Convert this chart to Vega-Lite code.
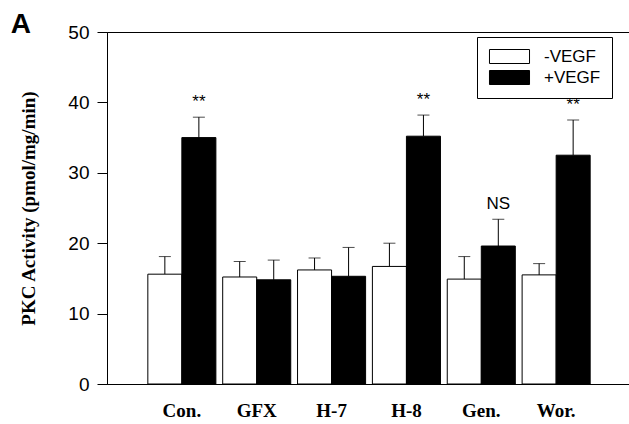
{
  "$schema": "https://vega.github.io/schema/vega-lite/v6.json",
  "width": 524,
  "height": 352,
  "autosize": {"type": "none"},
  "padding": {"left": 107, "top": 32, "right": 0, "bottom": 40},
  "title": {"text": "A", "anchor": "start", "frame": "bounds", "font": "Liberation Sans", "fontSize": 28, "fontWeight": "bold", "color": "black", "offset": 0, "dx": -9, "dy": 16},
  "config": {
    "view": {"stroke": "black", "strokeWidth": 1},
    "axis": {"domainColor": "black", "tickColor": "black", "labelColor": "black", "titleColor": "black", "grid": false}
  },
  "data": {
    "values": [
      {"group": "Con.", "treatment": "-VEGF", "mean": 15.6, "upper": 18.1, "label": ""},
      {"group": "Con.", "treatment": "+VEGF", "mean": 35.0, "upper": 37.9, "label": "**"},
      {"group": "GFX", "treatment": "-VEGF", "mean": 15.2, "upper": 17.4, "label": ""},
      {"group": "GFX", "treatment": "+VEGF", "mean": 14.8, "upper": 17.6, "label": ""},
      {"group": "H-7", "treatment": "-VEGF", "mean": 16.2, "upper": 17.9, "label": ""},
      {"group": "H-7", "treatment": "+VEGF", "mean": 15.3, "upper": 19.4, "label": ""},
      {"group": "H-8", "treatment": "-VEGF", "mean": 16.7, "upper": 20.0, "label": ""},
      {"group": "H-8", "treatment": "+VEGF", "mean": 35.2, "upper": 38.2, "label": "**"},
      {"group": "Gen.", "treatment": "-VEGF", "mean": 14.9, "upper": 18.1, "label": ""},
      {"group": "Gen.", "treatment": "+VEGF", "mean": 19.6, "upper": 23.4, "label": "NS"},
      {"group": "Wor.", "treatment": "-VEGF", "mean": 15.5, "upper": 17.1, "label": ""},
      {"group": "Wor.", "treatment": "+VEGF", "mean": 32.5, "upper": 37.5, "label": "**"}
    ]
  },
  "encoding": {
    "x": {
      "field": "group", "type": "nominal",
      "sort": ["Con.", "GFX", "H-7", "H-8", "Gen.", "Wor."],
      "scale": {"paddingInner": 0, "paddingOuter": 0.5},
      "axis": {"title": null, "ticks": false, "labelAngle": 0, "labelFont": "Liberation Serif", "labelFontWeight": "bold", "labelFontSize": 19, "labelPadding": 17}
    },
    "xOffset": {
      "field": "treatment", "type": "nominal",
      "sort": ["-VEGF", "+VEGF"],
      "scale": {"paddingInner": 0, "paddingOuter": 0.1}
    }
  },
  "layer": [
    {
      "mark": {"type": "rule", "color": "black", "strokeWidth": 1},
      "encoding": {
        "y": {"field": "mean", "type": "quantitative"},
        "y2": {"field": "upper"}
      }
    },
    {
      "mark": {"type": "tick", "orient": "horizontal", "size": 12, "thickness": 1, "color": "black"},
      "encoding": {
        "y": {"field": "upper", "type": "quantitative"}
      }
    },
    {
      "mark": {"type": "bar", "stroke": "black", "strokeWidth": 1},
      "encoding": {
        "y": {
          "field": "mean", "type": "quantitative",
          "scale": {"domain": [0, 50]},
          "axis": {"title": "PKC Activity (pmol/mg/min)", "values": [0, 10, 20, 30, 40, 50], "tickSize": 10, "labelFont": "Liberation Sans", "labelFontSize": 19, "labelPadding": 8, "titleFont": "Liberation Serif", "titleFontWeight": "bold", "titleFontSize": 19, "titlePadding": 29}
        },
        "color": {
          "field": "treatment", "type": "nominal",
          "sort": ["-VEGF", "+VEGF"],
          "scale": {"domain": ["-VEGF", "+VEGF"], "range": ["white", "black"]},
          "legend": {"title": null, "orient": "none", "legendX": 370, "legendY": 5, "strokeColor": "black", "padding": 11, "symbolType": "M-2.86,-1L2.86,-1L2.86,1L-2.86,1Z", "symbolSize": 196, "symbolOffset": 13, "symbolStrokeColor": "black", "symbolStrokeWidth": 1, "symbolOpacity": 1, "labelFont": "Liberation Sans", "labelFontSize": 17, "labelColor": "black", "labelOffset": 26, "labelExpr": "datum.label + ' '", "rowPadding": 2}
        }
      }
    },
    {
      "transform": [{"filter": "datum.label != ''"}],
      "mark": {"type": "text", "baseline": "bottom", "dy": -6, "font": "Liberation Sans", "fontSize": 17, "color": "black"},
      "encoding": {
        "y": {"field": "upper", "type": "quantitative"},
        "text": {"field": "label"}
      }
    }
  ]
}
